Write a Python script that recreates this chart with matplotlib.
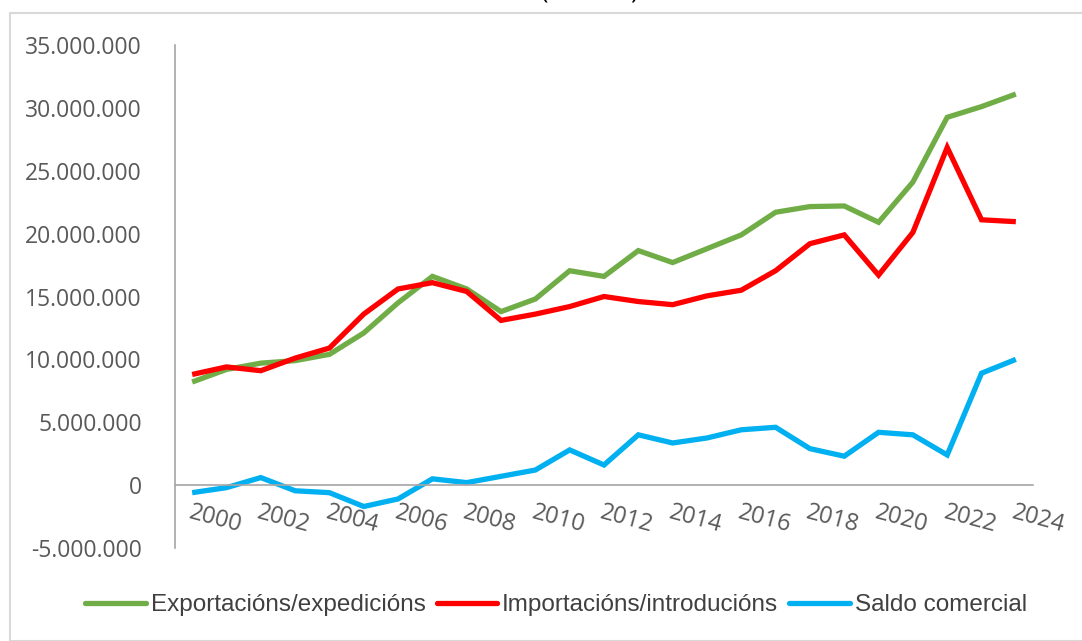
import numpy as np
import matplotlib.pyplot as plt
from matplotlib.patches import Rectangle
from matplotlib.ticker import FuncFormatter

years = list(range(2000, 2025))
exportacions = [8.2, 9.2, 9.7, 9.9, 10.4, 12.1, 14.5, 16.6, 15.6, 13.8, 14.8, 17.05, 16.6,
                18.65, 17.7, 18.8, 19.9, 21.7, 22.15, 22.2, 20.9, 24.1, 29.25, 30.1, 31.1]
importacions = [8.8, 9.4, 9.1, 10.1, 10.9, 13.6, 15.6, 16.1, 15.4, 13.1, 13.6, 14.2, 15.0,
                14.6, 14.35, 15.05, 15.5, 17.05, 19.2, 19.9, 16.7, 20.1, 26.85, 21.1, 20.95]
saldo = [-0.6, -0.2, 0.6, -0.45, -0.6, -1.7, -1.1, 0.5, 0.2, 0.7, 1.2, 2.8, 1.6,
         4.0, 3.35, 3.75, 4.4, 4.6, 2.9, 2.3, 4.2, 4.0, 2.4, 8.9, 10.0]
# values in millions -> units
exportacions = np.array(exportacions) * 1e6
importacions = np.array(importacions) * 1e6
saldo = np.array(saldo) * 1e6
labels = ["Exportacións/expedicións", "Importacións/introducións", "Saldo comercial"]
colors = ["#70AD47", "#FF0000", "#00B0F0"]

W, H = 1082, 641
fig = plt.figure(figsize=(W / 100, H / 100), dpi=100)
fig.patches.append(Rectangle((10 / W, 0), 1.2, (H - 13) / H, transform=fig.transFigure,
                             fill=False, edgecolor="#d9d9d9", linewidth=1.5))
# title is cut off at the top edge in the original
fig.text(590 / W, 1 + 9 / H, "(miles €)", ha="center", va="center", fontsize=18,
         family="Open Sans", color="#000000")

ax = fig.add_axes([175 / W, 1 - 548 / H, (1033 - 175) / W, (548 - 45) / H])
x = np.arange(len(years))
for serie, lab, col in zip([exportacions, importacions, saldo], labels, colors):
    ax.plot(x, serie, color=col, lw=3.8, label=lab, solid_capstyle="butt", solid_joinstyle="miter")

ax.set_xlim(-0.5, len(years) - 0.5)
ax.set_ylim(-5e6, 35e6)
ax.set_yticks(np.arange(-5e6, 35e6 + 1, 5e6))
ax.yaxis.set_major_formatter(FuncFormatter(lambda v, p: f"{int(v):,}".replace(",", ".")))
ax.set_xticks(x[::2])
ax.set_xticklabels([str(y) for y in years[::2]])

for s in ["top", "right"]:
    ax.spines[s].set_visible(False)
ax.spines["bottom"].set_position(("data", 0))
ax.spines["left"].set_color("#a6a6a6")
ax.spines["bottom"].set_color("#a6a6a6")
ax.spines["left"].set_linewidth(1.2)
ax.spines["bottom"].set_linewidth(1.2)
ax.tick_params(axis="both", length=0, colors="#595959")
ax.tick_params(axis="y", labelsize=16.5, pad=24)
ax.tick_params(axis="x", labelsize=17, pad=11)
for t in ax.get_yticklabels():
    t.set_family("Open Sans")
for t in ax.get_xticklabels():
    t.set_family("Open Sans")
    t.set_rotation(-15)
    t.set_ha("left")
    t.set_va("top")
    t.set_rotation_mode("anchor")

leg = fig.legend(loc="center", bbox_to_anchor=(556 / W, 1 - 605 / H), ncol=3, frameon=False,
                 prop={"family": ["Liberation Sans", "DejaVu Sans"], "size": 17.5},
                 handlelength=2.5, handletextpad=0.2, columnspacing=0.45, labelcolor="#404040")
for ln in leg.get_lines():
    ln.set_solid_capstyle("round")

fig.savefig("out.png", dpi=100)
